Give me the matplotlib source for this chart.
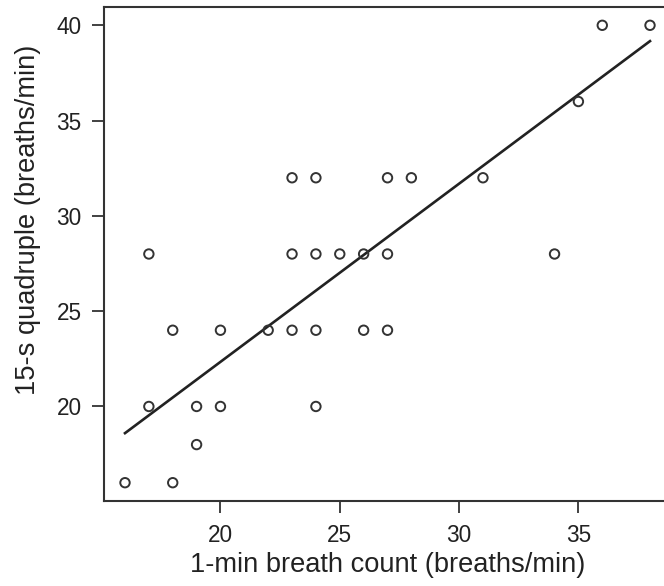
import numpy as np
import matplotlib
matplotlib.use("Agg")
import matplotlib.pyplot as plt

plt.rcParams['font.family'] = ['Liberation Sans', 'DejaVu Sans']

# Data
breath_1min = [16, 18, 19, 17, 19, 20, 24,
               18, 20, 22, 23, 24, 26, 27,
               17, 23, 24, 25, 26, 27, 34,
               23, 24, 27, 28, 31,
               35, 36, 38]
quad_15s = [16, 16, 18, 20, 20, 20, 20,
            24, 24, 24, 24, 24, 24, 24,
            28, 28, 28, 28, 28, 28, 28,
            32, 32, 32, 32, 32,
            36, 40, 40]
# Fitted line
fit_slope = 0.935
fit_intercept = 3.64
x_ticks = [20, 25, 30, 35]
y_ticks = [20, 25, 30, 35, 40]
x_label = "1-min breath count (breaths/min)"
y_label = "15-s quadruple (breaths/min)"

x = np.array(breath_1min, dtype=float)
y = np.array(quad_15s, dtype=float)

fig = plt.figure(figsize=(6.64, 5.86), dpi=100)
ax = fig.add_axes([104/664, 1 - 501/586, (671 - 104)/664, (501 - 7)/586])

edge = '#333333'
ax.scatter(x, y, s=46, facecolors='none', edgecolors=edge, linewidths=1.4, zorder=3)
xl = np.array([x.min(), x.max()])
ax.plot(xl, fit_intercept + fit_slope * xl, color='#222222', lw=1.9, zorder=2)

xr = x.max() - x.min()
yr = y.max() - y.min()
ax.set_xlim(x.min() - 0.04 * xr, x.max() + 0.04 * xr)
ax.set_ylim(y.min() - 0.04 * yr, y.max() + 0.04 * yr)

ax.set_xticks(x_ticks)
ax.set_yticks(y_ticks)
ax.tick_params(direction='out', length=8.5, width=1.3, color=edge,
               labelsize=16.3, labelcolor='#222222')
ax.tick_params(axis='x', pad=7.9)
ax.tick_params(axis='y', pad=7.5)
for s in ax.spines.values():
    s.set_color(edge)
    s.set_linewidth(1.5)

ax.set_xlabel(x_label, fontsize=19.6, color='#222222', va='top')
ax.xaxis.set_label_coords(0.5, -0.1032)
ax.set_ylabel(y_label, fontsize=19.6, color='#222222')
ax.yaxis.set_label_coords(-0.111, (501 - 220) / 494)

fig.savefig("out.png", dpi=100)
